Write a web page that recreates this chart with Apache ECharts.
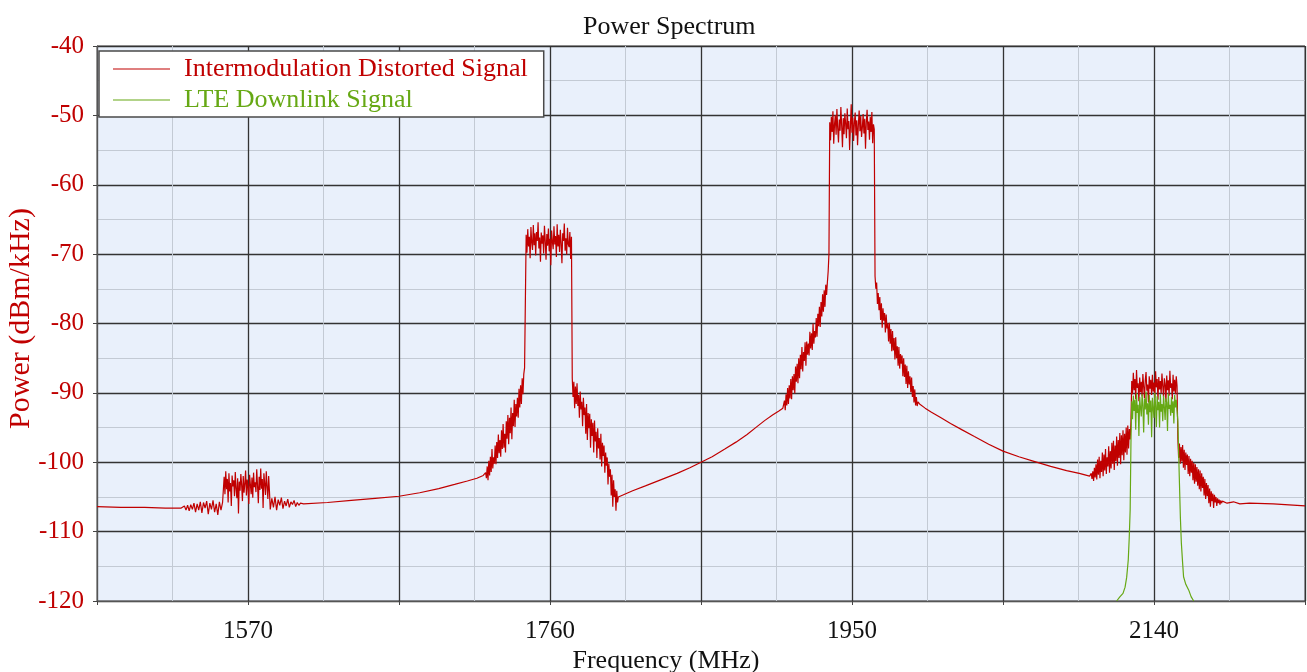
<!DOCTYPE html>
<html>
<head>
<meta charset="utf-8">
<script src="https://cdn.jsdelivr.net/npm/echarts@6/dist/echarts.min.js"></script>
<style>
html, body { margin: 0; padding: 0; background: #fff; }
#chart { width: 1307px; height: 672px; }
</style>
</head>
<body>
<div id="chart"></div>
<script>
// axis ticks (MHz) that carry a label
const freqTickLabels = [1570, 1760, 1950, 2140];

// --- Intermodulation distorted signal (dBm/kHz) ---
// smooth stretches as [MHz, dB] pairs
const imdFloorLeft = [[1475, -106.4], [1490, -106.5], [1505, -106.5], [1518, -106.6], [1528, -106.6]];
const imdSlope1 = [[1606, -106.0], [1620, -105.8], [1635, -105.5], [1650, -105.2], [1665, -104.9], [1678, -104.4], [1690, -103.8], [1700, -103.2], [1708, -102.7], [1714, -102.3], [1718, -101.9]];
const imdSlope2 = [[1804, -104.8], [1812, -104.1], [1820, -103.4], [1830, -102.5], [1840, -101.6], [1848, -100.8], [1855, -100.0], [1862, -99.2], [1870, -98.1], [1877, -97.1], [1884, -96.0], [1890, -94.9], [1895, -94.0], [1900, -93.2], [1904, -92.6], [1906.5, -92.2]];
const imdSlope3 = [[1992.5, -91.6], [1996, -92.2], [2000, -92.8], [2006, -93.6], [2012, -94.4], [2019, -95.3], [2027, -96.3], [2036, -97.4], [2045, -98.4], [2055, -99.2], [2065, -99.9], [2075, -100.6], [2085, -101.2], [2093, -101.6], [2099.5, -102.0]];
const imdFloorRight = [[2186, -105.9], [2190, -105.7], [2194, -106.0], [2200, -105.9], [2215, -106.0], [2235, -106.3]];

// noisy stretches, read at a fixed step
const imd1570ShoulderL = [-106.6, -106.3, -106.9, -106.2, -107.0, -106.1, -106.8, -105.9, -107.2, -106.0, -106.9, -105.7, -107.3, -105.8, -106.6, -105.6, -107.5, -105.9, -106.8, -105.5, -107.2, -106.0, -107.6, -105.7, -106.9, -105.8];
const imd1570Band = [-102.1, -104.6, -101.3, -103.9, -102.4, -105.8, -101.6, -104.2, -103.0, -106.3,
  -101.9, -103.5, -102.6, -104.9, -101.4, -103.8, -105.2, -102.3, -107.4, -102.8,
  -104.1, -101.7, -103.3, -105.6, -102.0, -104.4, -103.1, -101.2, -104.8, -102.5,
  -103.7, -106.0, -101.8, -103.2, -104.6, -102.2, -105.1, -101.5, -103.6, -102.9,
  -104.3, -101.0, -103.4, -105.9, -102.1, -104.0, -100.9, -103.8, -102.4, -106.6,
  -101.6, -103.1, -104.7, -101.3, -103.5, -105.3, -102.0, -104.2];
const imd1570ShoulderR = [-106.8, -105.2, -106.5, -105.0, -106.9, -105.4, -106.2, -105.1, -106.7, -105.6, -106.3, -105.3, -106.5, -105.7, -106.1, -105.5, -106.4, -105.8, -106.2, -105.9, -106.1, -106.0];

const imd1760ShoulderL = [-101.9, -101.5, -102.3, -100.6, -102.6, -99.8, -101.9, -99.2, -101.4, -98.1,
  -100.9, -99.3, -100.2, -97.6, -100.3, -97.1, -99.4, -96.0, -98.7, -96.8,
  -99.2, -95.4, -98.1, -94.5, -97.9, -95.9, -98.6, -94.1, -96.6, -93.2,
  -97.4, -93.6, -95.8, -92.1, -96.7, -92.9, -94.8, -91.0, -94.9, -91.6,
  -93.4, -90.7, -93.6, -89.4, -92.1, -88.9, -91.6, -87.9, -90.2, -87.3, -86.4];
const imd1760Band = [-67.2, -69.8, -66.4, -68.9, -67.5, -70.6, -66.1, -68.3, -69.4, -65.8,
  -68.7, -67.0, -70.2, -66.8, -68.1, -65.4, -69.2, -67.6, -71.1, -66.9,
  -68.5, -67.3, -69.9, -65.9, -68.0, -70.8, -67.1, -68.8, -66.3, -69.6,
  -67.8, -71.6, -66.6, -68.2, -69.3, -66.0, -68.6, -67.4, -70.4, -65.7,
  -68.9, -67.2, -69.7, -66.5, -68.4, -71.3, -67.0, -68.1, -65.6, -69.5,
  -67.7, -70.1, -66.2, -68.6, -69.0, -66.8, -70.7, -67.5];
const imd1760ShoulderR = [-87.9, -90.6, -88.4, -92.2, -89.1, -91.6, -88.6, -91.9, -90.3, -93.6,
  -89.8, -92.4, -91.3, -94.8, -90.7, -93.2, -92.1, -95.9, -91.6, -96.8,
  -92.9, -95.1, -93.0, -97.9, -93.8, -96.2, -94.3, -98.6, -94.0, -97.0,
  -95.6, -99.4, -95.1, -98.0, -96.5, -99.6, -95.9, -100.6, -97.2, -99.1,
  -97.6, -101.5, -98.6, -100.5, -99.3, -103.2, -100.2, -102.1, -101.0, -104.8,
  -101.8, -106.4, -102.6, -105.0, -103.9, -107.0, -104.1, -105.8, -105.0];

const imd1950ShoulderL = [-92.0, -91.1, -92.5, -90.2, -91.8, -89.3, -91.6, -88.9, -90.8, -88.0,
  -90.9, -87.6, -89.6, -87.3, -90.1, -86.2, -88.4, -85.8, -88.6, -85.0,
  -87.9, -84.5, -86.6, -83.4, -86.9, -84.1, -85.4, -82.7, -86.1, -82.6,
  -84.5, -82.9, -84.6, -81.2, -83.6, -81.4, -83.8, -80.0, -82.9, -81.1,
  -82.0, -79.2, -81.9, -78.6, -80.4, -77.6, -80.5, -76.9, -79.0, -75.8,
  -78.3, -75.2, -77.6, -74.4, -75.9, -74.1, -72.5, -70.0];
const imd1950Band = [-51.0, -53.6, -50.2, -52.4, -49.4, -54.1, -51.3, -50.0, -52.8, -49.1,
  -51.9, -53.9, -50.6, -52.2, -48.8, -51.5, -54.6, -50.4, -52.7, -49.7,
  -51.2, -53.3, -49.0, -52.0, -50.8, -55.0, -51.6, -48.4, -52.5, -50.3,
  -53.7, -51.1, -49.6, -52.9, -50.7, -54.3, -51.4, -49.3, -52.3, -50.1,
  -53.1, -51.8, -49.8, -52.6, -50.5, -54.8, -51.0, -49.2, -52.1, -50.9,
  -53.5, -50.2, -52.4, -49.5, -54.0, -51.3, -52.0];
const imd1950ShoulderR = [-73.2, -75.0, -74.1, -77.2, -75.6, -78.1, -76.2, -79.5, -77.1, -80.6,
  -77.8, -79.6, -78.5, -81.3, -78.7, -80.7, -80.0, -82.6, -79.9, -82.9,
  -80.8, -84.0, -81.1, -83.9, -82.1, -85.2, -82.0, -85.0, -83.3, -86.1,
  -83.4, -86.5, -84.4, -85.8, -84.6, -87.6, -85.0, -87.7, -85.9, -88.7,
  -86.1, -89.3, -86.9, -88.8, -87.6, -89.9, -87.8, -90.6, -89.0, -91.4,
  -89.5, -91.8, -90.6, -91.9, -91.3];

const imd2140ShoulderL = [-102.0, -101.6, -102.4, -101.3, -102.7, -100.8, -102.2, -100.3, -102.5, -99.6,
  -101.8, -99.2, -102.3, -99.8, -101.4, -98.6, -102.0, -98.9, -101.2, -98.1,
  -101.7, -99.3, -100.6, -97.7, -101.5, -98.4, -100.9, -97.2, -100.2, -96.9,
  -101.1, -97.6, -99.8, -96.3, -100.5, -96.8, -99.4, -95.8, -100.3, -96.1,
  -99.0, -95.4, -99.7, -95.9, -98.6, -95.0, -98.9, -94.7, -98.0, -95.2, -96.7, -94.1];
const imd2140Band = [-88.3, -90.2, -87.1, -89.6, -88.0, -90.9, -86.7, -89.3, -88.6, -91.2,
  -87.8, -89.9, -88.4, -90.5, -87.3, -89.1, -90.8, -88.2, -87.0, -89.7,
  -88.8, -91.4, -87.6, -89.4, -88.1, -90.3, -87.4, -89.8, -88.5, -90.7,
  -86.9, -89.2, -88.0, -91.0, -87.7, -89.5, -88.3, -90.1, -87.2, -89.0,
  -90.6, -87.9, -88.7, -91.3, -87.5, -89.6, -88.2, -90.4, -86.8, -89.3,
  -88.6, -90.9, -87.4, -89.8, -88.1, -90.2, -87.6, -89.0];
const imd2140ShoulderR = [-96.6, -99.4, -97.3, -100.2, -97.8, -99.9, -97.5, -100.8, -98.2, -101.1,
  -98.6, -100.4, -98.9, -101.7, -99.1, -102.0, -99.5, -101.5, -99.8, -102.6,
  -100.1, -103.1, -100.3, -102.8, -100.7, -103.4, -101.0, -103.9, -101.2, -104.2,
  -101.6, -103.7, -102.1, -104.8, -102.4, -105.3, -103.0, -104.9, -103.3, -105.9,
  -103.8, -106.4, -104.2, -105.6, -104.5, -106.6, -104.7, -105.8, -105.0, -106.3,
  -105.2, -105.9, -105.4, -106.1, -105.5, -105.9, -105.6, -105.8, -105.7];

// --- LTE downlink signal (dBm/kHz) ---
const lteRise = [[2116.5, -120.0], [2118.5, -119.4], [2120.5, -118.9], [2121.8, -118.0], [2122.8, -116.6], [2123.8, -114.1], [2124.4, -111.0], [2125.0, -106.9], [2125.5, -97.2]];
const lteBand = [-91.2, -93.8, -90.4, -92.6, -91.0, -95.3, -90.1, -92.9, -91.7, -96.2,
  -90.6, -92.1, -93.4, -90.2, -91.8, -95.7, -90.9, -92.4, -89.8, -93.1,
  -91.5, -94.6, -90.3, -92.8, -91.1, -96.4, -90.7, -92.2, -93.6, -90.0,
  -91.9, -94.9, -90.5, -92.5, -91.3, -95.0, -90.2, -92.7, -91.6, -94.1,
  -90.4, -92.0, -93.9, -90.8, -91.4, -95.5, -90.1, -92.3, -91.7, -93.3,
  -90.6, -92.9, -91.2, -94.4, -90.3, -92.1, -91.0, -92.6];
const lteFall = [[2155.0, -94.0], [2155.9, -102.1], [2156.6, -108.0], [2157.2, -111.6], [2158.0, -114.5], [2158.6, -116.5], [2160.0, -117.6], [2161.8, -118.4], [2163.4, -119.4], [2165.0, -120.0]];

function run(start, step, values) {
    return values.map((v, i) => [start + i * step, v]);
}

const imdData = [].concat(
    imdFloorLeft,
    run(1529, 1, imd1570ShoulderL),
    run(1555, 0.5, imd1570Band),
    run(1584, 1, imd1570ShoulderR),
    imdSlope1,
    run(1719, 0.5, imd1760ShoulderL),
    run(1745, 0.5, imd1760Band),
    run(1774, 0.5, imd1760ShoulderR),
    imdSlope2,
    run(1907, 0.5, imd1950ShoulderL),
    run(1936, 0.5, imd1950Band),
    run(1964.5, 0.5, imd1950ShoulderR),
    imdSlope3,
    run(2100, 0.5, imd2140ShoulderL),
    run(2126, 0.5, imd2140Band),
    run(2155, 0.5, imd2140ShoulderR),
    imdFloorRight
);

const lteData = [].concat(lteRise, run(2126, 0.5, lteBand), lteFall);

const RED = '#C00000';
const GREEN = '#66A814';
const FONT = 'Liberation Serif';

const chart = echarts.init(document.getElementById('chart'));

const option = {
    animation: false,
    title: {
        text: 'Power Spectrum',
        left: 578,
        top: 9,
        textStyle: { fontFamily: FONT, fontSize: 26, fontWeight: 'normal', color: '#111' }
    },
    legend: {
        orient: 'vertical',
        left: 99,
        top: 51,
        padding: [5, 16, 4, 14],
        itemGap: 5,
        itemWidth: 57,
        itemHeight: 1,
        icon: 'rect',
        backgroundColor: '#fff',
        borderColor: '#4a4a4a',
        borderWidth: 1.5,
        textStyle: { fontFamily: FONT, fontSize: 26, padding: [0, 0, 0, 9] },
        data: [
            { name: 'Intermodulation Distorted Signal', textStyle: { color: RED } },
            { name: 'LTE Downlink Signal', textStyle: { color: GREEN } }
        ]
    },
    grid: {
        left: 97, right: 2, top: 46, bottom: 71,
        outerBoundsMode: 'none',
        containLabel: false,
        show: true,
        backgroundColor: '#E9F0FB',
        borderColor: '#555',
        borderWidth: 1
    },
    xAxis: {
        type: 'value',
        min: 1475,
        max: 2235,
        interval: 95,
        name: 'Frequency (MHz)',
        nameLocation: 'middle',
        nameGap: 47,
        nameMoveOverlap: false,
        nameTextStyle: { fontFamily: FONT, fontSize: 26, color: '#111', padding: [0, 70, 0, 0] },
        axisLine: { lineStyle: { color: '#555' } },
        axisTick: { show: true, length: 4, lineStyle: { color: '#444' } },
        axisLabel: {
            margin: 18,
            fontFamily: FONT, fontSize: 25, color: '#111',
            formatter: v => (freqTickLabels.includes(v) ? String(v) : '')
        },
        splitLine: { show: true, lineStyle: { color: '#333', width: 1.3 } },
        minorTick: { show: false, splitNumber: 2 },
        minorSplitLine: { show: true, lineStyle: { color: '#C3CAD4', width: 1 } }
    },
    yAxis: {
        type: 'value',
        min: -120,
        max: -40,
        interval: 10,
        name: 'Power (dBm/kHz)',
        nameLocation: 'middle',
        nameGap: 61,
        nameMoveOverlap: false,
        nameTextStyle: { fontFamily: FONT, fontSize: 30, color: RED, padding: [0, 0, 0, 10] },
        axisLine: { show: true, lineStyle: { color: '#555' } },
        axisTick: { show: true, length: 4, lineStyle: { color: '#444' } },
        axisLabel: { margin: 13, fontFamily: FONT, fontSize: 25, color: RED },
        splitLine: { show: true, lineStyle: { color: '#333', width: 1.3 } },
        minorTick: { show: false, splitNumber: 2 },
        minorSplitLine: { show: true, lineStyle: { color: '#C3CAD4', width: 1 } }
    },
    series: [
        {
            name: 'Intermodulation Distorted Signal',
            type: 'line',
            data: imdData,
            symbol: 'none',
            sampling: null,
            lineStyle: { color: RED, width: 1.2 },
            itemStyle: { color: RED },
            z: 3
        },
        {
            name: 'LTE Downlink Signal',
            type: 'line',
            data: lteData,
            symbol: 'none',
            lineStyle: { color: GREEN, width: 1.2 },
            itemStyle: { color: GREEN },
            z: 4
        }
    ]
};

chart.setOption(option);
</script>
</body>
</html>
